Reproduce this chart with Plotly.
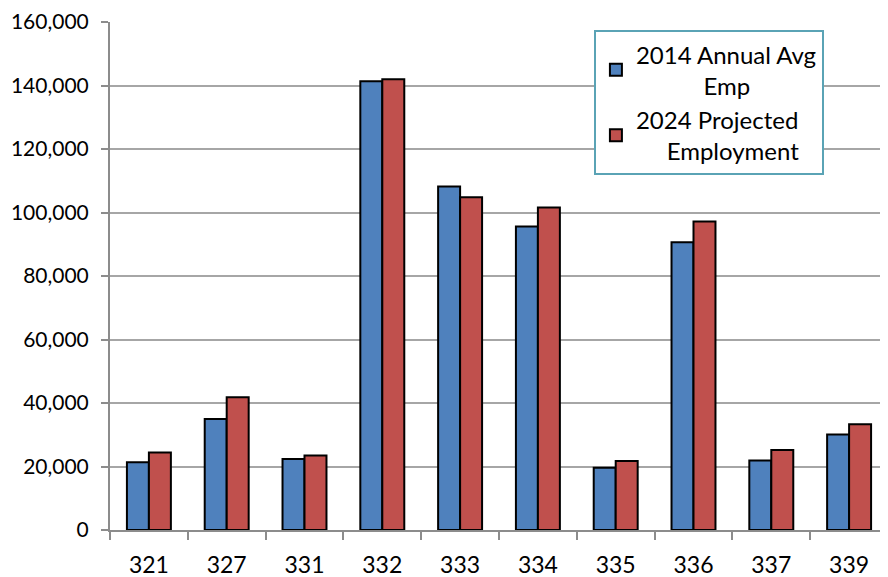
import plotly.graph_objects as go

categories = ["321", "327", "331", "332", "333", "334", "335", "336", "337", "339"]
emp_2014 = [21300, 35000, 22400, 141300, 108200, 95600, 19600, 90600, 21900, 30100]
emp_2024 = [24400, 41800, 23500, 142000, 104800, 101600, 21700, 97200, 25200, 33300]
series_names = ["2014 Annual Avg<br>           Emp", "2024 Projected<br>     Employment"]
y_ticks = [0, 20000, 40000, 60000, 80000, 100000, 120000, 140000, 160000]

FONT = "Lato"

fig = go.Figure()
fig.add_trace(go.Bar(x=categories, y=emp_2014, name=series_names[0],
                     marker=dict(color="#4F81BD", line=dict(color="black", width=2))))
fig.add_trace(go.Bar(x=categories, y=emp_2024, name=series_names[1],
                     marker=dict(color="#C0504D", line=dict(color="black", width=2))))

# page body has an 8px margin, so the figure is sized 880x569
fig.update_layout(
    width=880, height=569,
    margin=dict(l=102, r=0, t=14, b=47),
    paper_bgcolor="white", plot_bgcolor="white",
    barmode="group", bargap=0.435, bargroupgap=0,
    font=dict(family=FONT, size=21, color="black"),
    showlegend=True,
    legend=dict(x=0.622, y=0.984, xanchor="left", yanchor="top",
                bgcolor="white", bordercolor="#5aa3b5", borderwidth=2,
                font=dict(family=FONT, size=24, color="black"),
                traceorder="normal", itemwidth=30, tracegroupgap=0),
)
fig.update_xaxes(type="category", showline=True, linecolor="#8c8c8c", linewidth=2,
                 ticks="outside", ticklen=8, tickcolor="#8c8c8c", tickwidth=2,
                 tickson="boundaries", ticklabelstandoff=13, showgrid=False,
                 automargin=False,
                 tickfont=dict(family=FONT, size=23))
fig.update_yaxes(range=[0, 160000], tickvals=y_ticks, tickformat=",d",
                 showline=True, linecolor="#8c8c8c", linewidth=2,
                 ticks="outside", ticklen=7, tickcolor="#8c8c8c", tickwidth=2,
                 showgrid=True, gridcolor="#a6a6a6", gridwidth=2,
                 zeroline=False, ticklabelstandoff=8, automargin=False,
                 tickfont=dict(family=FONT, size=21))

fig.write_html("out.html")
